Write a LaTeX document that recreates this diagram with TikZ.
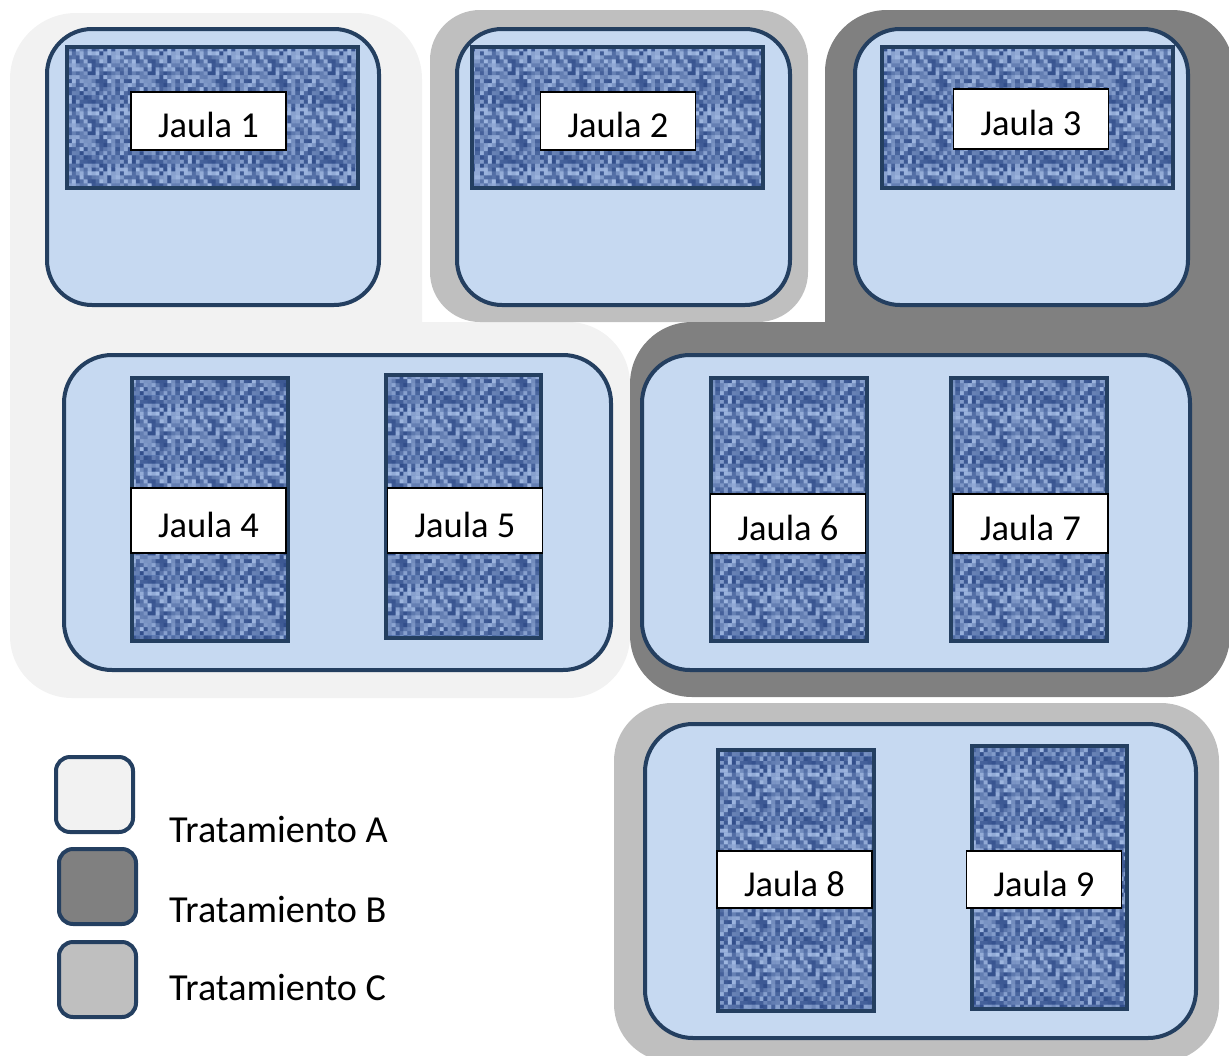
\documentclass[tikz,border=0pt]{standalone}
\usepackage{fontspec}
\setmainfont{Carlito}
\usetikzlibrary{patterns}

\definecolor{tA}{HTML}{F2F2F2}
\definecolor{tB}{HTML}{808080}
\definecolor{tC}{HTML}{BFBFBF}
\definecolor{cagefill}{HTML}{C6D9F1}
\definecolor{edge}{HTML}{243F60}
\definecolor{wdark}{HTML}{264382}
\definecolor{wlight}{HTML}{B8CFF4}
\definecolor{wmid}{HTML}{5D7DB8}

% woven fabric tile, 15 x 15 cells of 4pt
\pgfmathsetseed{4217}
\pgfdeclarepatterninherentlycolored{fabric}
  {\pgfpointorigin}{\pgfqpoint{60pt}{60pt}}{\pgfqpoint{60pt}{60pt}}
  {%
    \foreach \i in {0,...,14}{%
      \foreach \j in {0,...,14}{%
        \pgfmathrandominteger{\rv}{8}{85}%
        \pgfsetfillcolor{wlight!\rv!wdark}%
        \pgfpathrectangle{\pgfpoint{\i*4pt}{\j*4pt}}{\pgfqpoint{4.3pt}{4.3pt}}%
        \pgfusepath{fill}%
      }%
    }%
  }

\tikzset{
  cage/.style={fill=cagefill, draw=edge, line width=4pt, rounded corners=48pt},
  fabricpanel/.style={preaction={fill=wmid}, pattern=fabric, draw=edge, line width=4pt},
  lbl/.style={draw=black, line width=1.2pt, fill=white, minimum width=155pt,
    inner sep=0pt, text height=33pt, text depth=0pt,
    font=\fontsize{36.5}{44}\selectfont},
  legbox/.style={draw=edge, line width=4pt, rounded corners=14pt},
  legtext/.style={anchor=base west, inner sep=0pt,
    font=\fontsize{38.2}{46}\selectfont},
}

\begin{document}
\begin{tikzpicture}[x=1pt,y=-1pt]
\begin{scope}
  \clip (0,0) rectangle (1229,1055);
  % treatment areas
  \fill[tA, rounded corners=66pt] (10,13) rectangle (422,520);
  \fill[tA, rounded corners=62pt] (10,322) rectangle (630,698);
  \fill[tC, rounded corners=50pt] (430,10) rectangle (808,322);
  \fill[tB, rounded corners=62pt] (825,10) rectangle (1234,520);
  \fill[tB, rounded corners=62pt] (630,322) rectangle (1230,697);
  \fill[tC, rounded corners=58pt] (614,703) rectangle (1219,1062);

  % cages
  \draw[cage, rounded corners=45pt] (47,29) rectangle (379,305);
  \draw[cage, rounded corners=45pt] (457,29) rectangle (790,305);
  \draw[cage, rounded corners=45pt] (855,29) rectangle (1188,305);
  \draw[cage] (64,355) rectangle (611,670);
  \draw[cage] (642,355) rectangle (1190,670);
  \draw[cage] (645,724) rectangle (1196,1038);

  % fabric panels
  \draw[fabricpanel] (67,47) rectangle (358,188);
  \draw[fabricpanel] (472,47) rectangle (763,188);
  \draw[fabricpanel] (882,47) rectangle (1173,188);
  \draw[fabricpanel] (132,378) rectangle (288,641);
  \draw[fabricpanel] (386,375) rectangle (541,638);
  \draw[fabricpanel] (711,378) rectangle (867,641);
  \draw[fabricpanel] (951,378) rectangle (1107,641);
  \draw[fabricpanel] (718,750) rectangle (874,1011);
  \draw[fabricpanel] (972,746) rectangle (1127,1009);

  % cage labels
  \node[lbl, minimum height=58pt] (j1) at (208.5,121) {Jaula 1};
  \node[lbl, minimum height=58pt] (j2) at (618,121) {Jaula 2};
  \node[lbl, minimum height=60pt] (j3) at (1031,119) {Jaula 3};
  \node[lbl, minimum height=65pt] (j4) at (208.5,520.5) {Jaula 4};
  \node[lbl, minimum height=65pt] (j5) at (465,520.5) {Jaula 5};
  \node[lbl, minimum height=59pt] (j6) at (788,523.5) {Jaula 6};
  \node[lbl, minimum height=59pt] (j7) at (1030.5,523.5) {Jaula 7};
  \node[lbl, minimum height=57pt] (j8) at (794.5,879.5) {Jaula 8};
  \node[lbl, minimum height=57pt] (j9) at (1044,879.5) {Jaula 9};

  % legend
  \draw[legbox, fill=tA] (56,757) rectangle (133,832);
  \draw[legbox, fill=tB] (59,849) rectangle (136,924);
  \draw[legbox, fill=tC] (59,942) rectangle (136,1017);
  \node[legtext] (la) at (169,842) {Tratamiento A};
  \node[legtext] (lb) at (169,922) {Tratamiento B};
  \node[legtext] (lc) at (169,1000) {Tratamiento C};
\end{scope}
\pgfresetboundingbox
\useasboundingbox (0,0) rectangle (1229,1055);
\end{tikzpicture}
\end{document}
